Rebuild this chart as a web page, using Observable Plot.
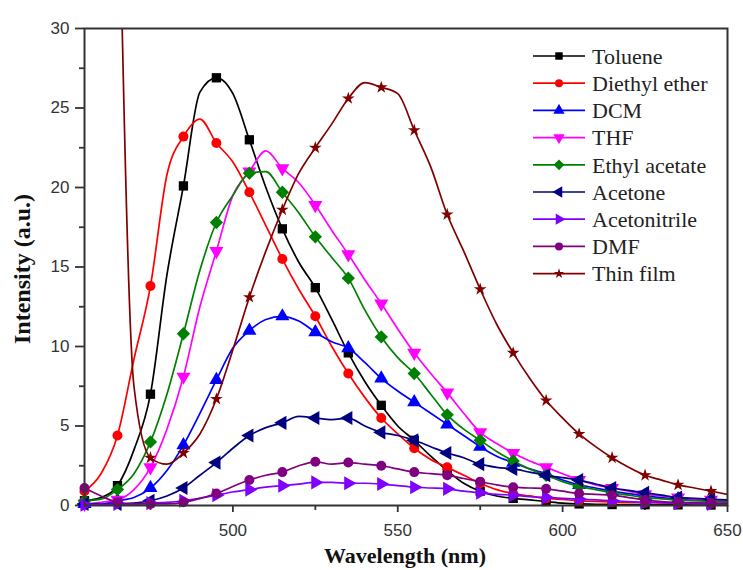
<!DOCTYPE html>
<html><head><meta charset="utf-8">
<script src="https://cdn.jsdelivr.net/npm/d3@7"></script>
<script src="https://cdn.jsdelivr.net/npm/@observablehq/plot@0.6"></script>
<style>
body{margin:0;background:#fff;}
#chart{position:relative;width:743px;height:570px;}
</style></head><body><div id="chart"></div>
<script>
const wavelength = [455,460,465,470,475,480,485,490,495,500,505,510,515,520,525,530,535,540,545,550,555,560,565,570,575,580,585,590,595,600,605,610,615,620,625,630,635,640,645,650];
const seriesNames = ["Toluene","Diethyl ether","DCM","THF","Ethyl acetate","Acetone","Acetonitrile","DMF","Thin film"];
const seriesColors = ["#000000","#ff0000","#0000ff","#ff00ff","#008000","#000080","#8000ff","#800080","#800000"];
const toluene = [0.3,0.5,1.25,3.5,7.0,14.5,20.1,26.0,26.9,25.9,23.0,20.0,17.4,15.3,13.7,11.7,9.6,7.8,6.3,5.0,4.1,3.1,2.2,1.4,0.9,0.6,0.45,0.35,0.25,0.15,0.1,0.08,0.06,0.05,0.05,0.04,0.04,0.03,0.03,0.03];
const diethylEther = [0.9,2.0,4.4,9.2,13.8,20.8,23.2,24.3,22.8,21.6,19.7,17.6,15.5,13.6,11.9,10.0,8.3,6.8,5.5,4.5,3.6,2.9,2.4,1.9,1.4,1.0,0.75,0.6,0.45,0.38,0.3,0.25,0.22,0.2,0.18,0.16,0.15,0.14,0.13,0.12];
const dcm = [0.1,0.1,0.3,0.5,1.1,2.2,3.8,5.8,7.9,9.9,11.0,11.7,11.9,11.6,10.9,10.3,9.9,9.0,8.0,7.2,6.5,5.8,5.1,4.4,3.7,3.1,2.7,2.3,2.0,1.6,1.3,1.1,0.9,0.75,0.6,0.5,0.4,0.35,0.3,0.25];
const thf = [0.1,0.2,0.35,1.0,2.4,4.8,8.1,12.5,16.0,19.5,21.0,22.3,21.2,20.3,18.9,17.3,15.8,14.2,12.7,11.1,9.6,8.3,7.1,5.8,4.6,3.9,3.3,2.8,2.4,2.0,1.6,1.3,1.1,0.9,0.7,0.6,0.5,0.4,0.35,0.3];
const ethylAcetate = [0.3,0.4,1.0,2.0,4.0,7.0,10.8,14.8,17.8,19.5,20.9,21.0,19.7,18.4,16.9,15.6,14.3,12.3,10.6,9.3,8.3,7.0,5.7,4.8,4.1,3.4,2.8,2.3,1.9,1.5,1.2,1.0,0.8,0.65,0.5,0.42,0.35,0.3,0.25,0.2];
const acetone = [0.1,0.1,0.1,0.15,0.3,0.6,1.1,1.9,2.7,3.6,4.4,4.9,5.2,5.6,5.5,5.4,5.5,5.0,4.6,4.4,4.1,3.7,3.3,3.0,2.6,2.4,2.3,2.1,1.9,1.75,1.6,1.35,1.1,0.95,0.8,0.65,0.5,0.45,0.4,0.35];
const acetonitrile = [0.05,0.05,0.1,0.1,0.15,0.2,0.3,0.45,0.65,0.85,1.0,1.15,1.25,1.35,1.45,1.45,1.4,1.4,1.35,1.25,1.15,1.1,1.05,0.9,0.8,0.7,0.65,0.55,0.5,0.45,0.4,0.35,0.3,0.25,0.2,0.18,0.15,0.12,0.1,0.1];
const dmf = [1.1,0.6,0.2,0.1,0.1,0.1,0.2,0.45,0.75,1.2,1.6,1.9,2.1,2.5,2.75,2.6,2.7,2.6,2.5,2.3,2.1,2.0,1.9,1.7,1.5,1.3,1.15,1.1,1.05,0.9,0.75,0.7,0.65,0.5,0.35,0.25,0.2,0.18,0.15,0.12];
const thinFilm = [null,null,44,7.5,3.0,2.6,3.3,4.5,6.7,9.8,13.1,16.0,18.6,20.9,22.5,24.0,25.6,26.6,26.3,25.9,23.6,21.3,18.3,16.0,13.6,11.4,9.6,8.0,6.6,5.5,4.5,3.7,3.0,2.4,1.9,1.6,1.3,1.1,0.9,0.7];
const seriesValues = [toluene,diethylEther,dcm,thf,ethylAcetate,acetone,acetonitrile,dmf,thinFilm];
const yTicks = [0,5,10,15,20,25,30];
const yMinorTicks = [2.5,7.5,12.5,17.5,22.5,27.5];
const xTicks = [500,550,600,650];
const xMinorTicks = [475,525,575,625];

// custom triangle symbols
function tri(dir){
  return {draw(ctx, size){
    const s = Math.sqrt(4*size/Math.sqrt(3)), h = s*Math.sqrt(3)/2;
    let pts = [[0,-2*h/3],[s/2,h/3],[-s/2,h/3]];
    if (dir==="down") pts = pts.map(([x,y])=>[x,-y]);
    if (dir==="left") pts = pts.map(([x,y])=>[y,x]);
    if (dir==="right") pts = pts.map(([x,y])=>[-y,x]);
    ctx.moveTo(pts[0][0],pts[0][1]); ctx.lineTo(pts[1][0],pts[1][1]); ctx.lineTo(pts[2][0],pts[2][1]); ctx.closePath();
  }};
}
const symbols = [d3.symbolSquare, d3.symbolCircle, tri("up"), tri("down"), d3.symbolDiamond2, tri("left"), tri("right"), d3.symbolCircle, d3.symbolStar];
const symbolScale = [1.05,1,1.05,1.05,1.2,1.05,1.05,1,0.8];

const marks = [];
seriesValues.forEach((vals, i) => {
  const rows = wavelength.map((wl, j) => ({wl, v: vals[j]})).filter(d => d.v != null);
  const markerRows = rows.filter(d => (d.wl - 455) % 10 === 0 && d.v <= 30);
  marks.push(Plot.line(rows, {x: "wl", y: "v", stroke: seriesColors[i], strokeWidth: 1.7, curve: "monotone-x", clip: true}));
  marks.push(Plot.dot(markerRows, {x: "wl", y: "v", symbol: symbols[i], fill: seriesColors[i], stroke: "none", r: 5*symbolScale[i]}));
});

const chart = Plot.plot({
  width: 743, height: 570,
  marginLeft: 84, marginRight: 16, marginTop: 28, marginBottom: 65,
  x: {domain: [455, 650]},
  y: {domain: [0, 30]},
  style: {fontFamily: "'Liberation Sans', Arial, sans-serif", fontSize: "17px", color: "#333", background: "white"},
  marks: [
    Plot.axisY({ticks: yTicks, tickSize: 9, tickPadding: 6, strokeWidth: 1.8, label: null}),
    Plot.axisY({ticks: yMinorTicks, tickSize: 5, tickFormat: () => "", strokeWidth: 1.8, label: null}),
    Plot.axisX({ticks: xTicks, tickSize: 7, tickPadding: 11, strokeWidth: 1.8, label: null}),
    Plot.axisX({ticks: xMinorTicks, tickSize: 5, tickFormat: () => "", strokeWidth: 1.8, label: null}),
    ...marks,
    Plot.frame({stroke: "#333", strokeWidth: 2})
  ]
});
document.getElementById("chart").appendChild(chart);

const svg = d3.select(chart);
const serif = "'Liberation Serif', 'Times New Roman', serif";
svg.append("text").attr("x", 405).attr("y", 563).attr("text-anchor", "middle")
  .attr("font-family", serif).attr("font-weight", "bold").attr("font-size", 22).attr("fill", "#111")
  .text("Wavelength (nm)");
svg.append("text").attr("transform", "translate(24,269) rotate(-90)").attr("text-anchor", "middle")
  .attr("dominant-baseline", "middle")
  .attr("font-family", serif).attr("font-weight", "bold").attr("font-size", 24).attr("fill", "#111")
  .text("Intensity (a.u.)");

// legend
const lg = svg.append("g").attr("transform", "translate(533,56)");
seriesNames.forEach((name, i) => {
  const row = lg.append("g").attr("transform", `translate(0,${i*27.2})`);
  row.append("line").attr("x1", 0).attr("x2", 52).attr("y1", 0).attr("y2", 0)
    .attr("stroke", seriesColors[i]).attr("stroke-width", 1.7);
  row.append("path").attr("transform", "translate(26,0)")
    .attr("d", d3.symbol(symbols[i], Math.PI*16*symbolScale[i]*symbolScale[i])())
    .attr("fill", seriesColors[i]);
  row.append("text").attr("x", 59).attr("y", 0).attr("dy", "0.35em").attr("text-anchor", "start")
    .attr("font-family", serif).attr("font-size", 22).attr("fill", "#222").text(name);
});
</script></body></html>
